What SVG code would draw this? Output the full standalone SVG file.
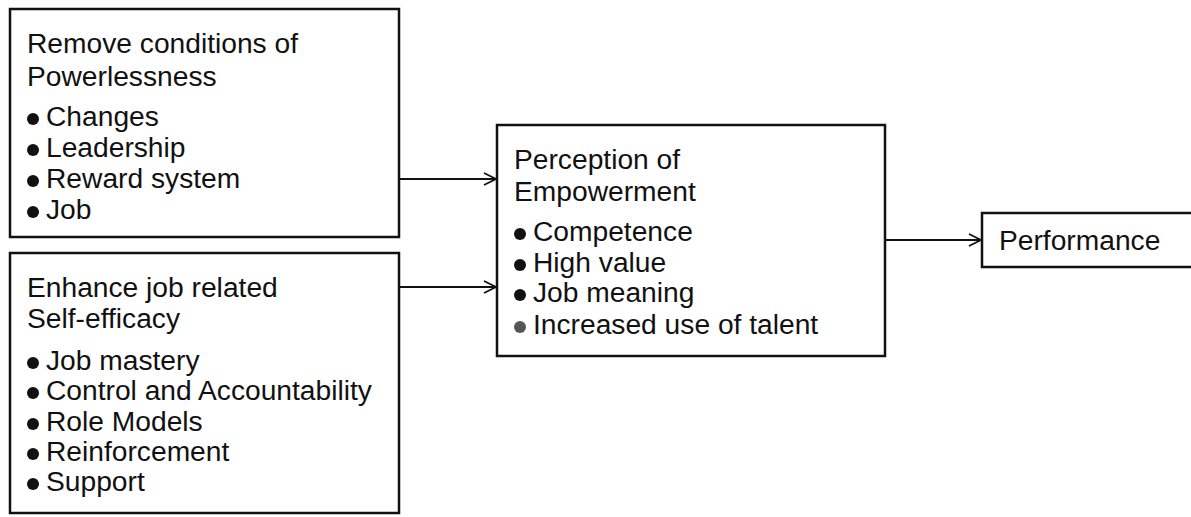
<svg xmlns="http://www.w3.org/2000/svg" width="1191" height="517" viewBox="0 0 1191 517">
<defs>
<style>
.box{fill:#fff;stroke:#111;stroke-width:2.5}
.t{font-family:"Liberation Sans",Arial,sans-serif;font-size:28.2px;fill:#111}
.b{fill:#111}
.c{stroke:#111;stroke-width:2;fill:none}
</style>
<marker id="ah" markerWidth="14" markerHeight="14" refX="13" refY="7" orient="auto" markerUnits="userSpaceOnUse">
<path d="M1,1 L13,7 L1,13" fill="none" stroke="#111" stroke-width="1.8"/>
</marker>
</defs>
<rect width="1191" height="517" fill="#fff"/>
<g id="connectors">
<line class="c" x1="399" y1="179" x2="496" y2="179" marker-end="url(#ah)"/>
<line class="c" x1="399" y1="287" x2="496" y2="287" marker-end="url(#ah)"/>
<line class="c" x1="885" y1="240" x2="981" y2="240" marker-end="url(#ah)"/>
</g>
<g id="powerlessness">
<rect class="box" x="10" y="9" width="389" height="228"/>
<text class="t" x="27" y="53">Remove conditions of</text>
<text class="t" x="27" y="86">Powerlessness</text>
<circle class="b" cx="33" cy="119" r="6"/><text class="t" x="46" y="126">Changes</text>
<circle class="b" cx="33" cy="150" r="6"/><text class="t" x="46" y="157">Leadership</text>
<circle class="b" cx="33" cy="181" r="6"/><text class="t" x="46" y="188">Reward system</text>
<circle class="b" cx="33" cy="212" r="6"/><text class="t" x="46" y="219">Job</text>
</g>
<g id="selfefficacy">
<rect class="box" x="10" y="253" width="389" height="260"/>
<text class="t" x="27" y="297">Enhance job related</text>
<text class="t" x="27" y="328">Self-efficacy</text>
<circle class="b" cx="33" cy="363" r="6"/><text class="t" x="46" y="370">Job mastery</text>
<circle class="b" cx="33" cy="393" r="6"/><text class="t" x="46" y="400">Control and Accountability</text>
<circle class="b" cx="33" cy="424" r="6"/><text class="t" x="46" y="431">Role Models</text>
<circle class="b" cx="33" cy="454" r="6"/><text class="t" x="46" y="461">Reinforcement</text>
<circle class="b" cx="33" cy="484" r="6"/><text class="t" x="46" y="491">Support</text>
</g>
<g id="empowerment">
<rect class="box" x="497" y="125" width="388" height="231"/>
<text class="t" x="514" y="169">Perception of</text>
<text class="t" x="514" y="201">Empowerment</text>
<circle class="b" cx="520" cy="234" r="6"/><text class="t" x="533" y="241">Competence</text>
<circle class="b" cx="520" cy="265" r="6"/><text class="t" x="533" y="272">High value</text>
<circle class="b" cx="520" cy="295" r="6"/><text class="t" x="533" y="302">Job meaning</text>
<circle cx="520" cy="327" r="6" fill="#555"/><text class="t" x="533" y="334">Increased use of talent</text>
</g>
<g id="performance">
<rect class="box" x="982" y="213" width="220" height="54"/>
<text class="t" x="999" y="250">Performance</text>
</g>
</svg>
